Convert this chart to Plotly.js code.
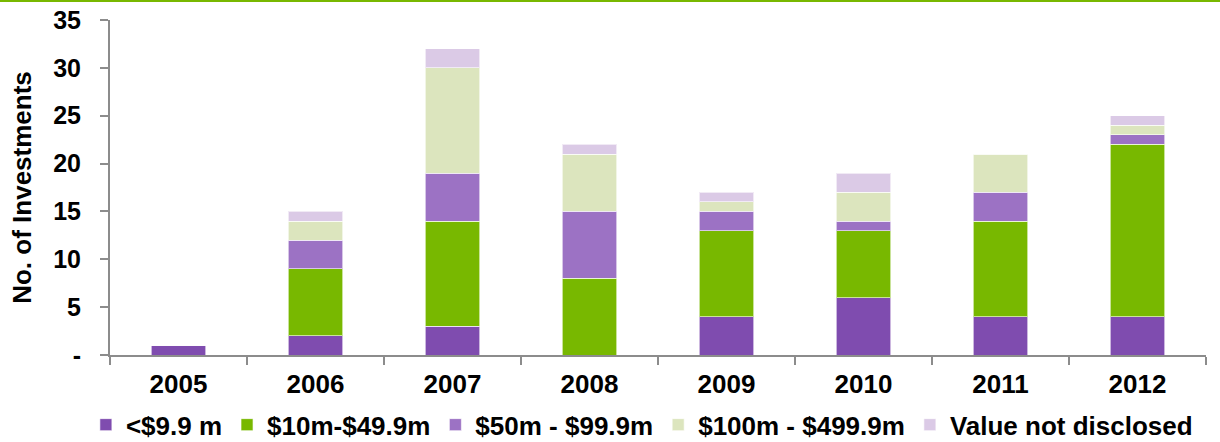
<!DOCTYPE html>
<html>
<head>
<meta charset="utf-8">
<script src="https://cdn.plot.ly/plotly-3.0.1.min.js"></script>
<style>html,body{margin:0;padding:0;background:#fff;}#chart{width:1220px;height:442px;}</style>
</head>
<body>
<div id="chart"></div>
<script>
const years = ["2005","2006","2007","2008","2009","2010","2011","2012"];
const seriesNames = ["<$9.9 m","$10m-$49.9m","$50m - $99.9m","$100m - $499.9m","Value not disclosed"];
const under10m = [1, 2, 3, 0, 4, 6, 4, 4];
const m10to50 = [0, 7, 11, 8, 9, 7, 10, 18];
const m50to100 = [0, 3, 5, 7, 2, 1, 3, 1];
const m100to500 = [0, 2, 11, 6, 1, 3, 4, 1];
const notDisclosed = [0, 1, 2, 1, 1, 2, 0, 1];
const yTickVals = [0, 5, 10, 15, 20, 25, 30, 35];
const yTickText = ["-", "5", "10", "15", "20", "25", "30", "35"];

const colors = ["#7F4CAF", "#78B800", "#9C72C4", "#DCE5BE", "#DBCAE6"];
const values = [under10m, m10to50, m50to100, m100to500, notDisclosed];
const FONT = "Liberation Sans, Arial, sans-serif";

const traces = values.map((v, i) => ({
  type: "bar",
  x: years,
  y: v,
  name: seriesNames[i],
  marker: {color: colors[i], line: {width: 1, color: "rgba(255,255,255,0.6)"}},
  hoverinfo: "x+y+name"
}));

const layout = {
  width: 1220,
  height: 442,
  barmode: "stack",
  bargap: 0.6,
  paper_bgcolor: "#fff",
  plot_bgcolor: "#fff",
  margin: {l: 110, r: 14, t: 20, b: 87, autoexpand: false},
  font: {family: FONT, size: 26, color: "#000"},
  xaxis: {
    type: "category",
    automargin: false,
    showline: true, linecolor: "#8c8c8c", linewidth: 2,
    ticks: "outside", tickson: "boundaries", ticklen: 8, tickcolor: "#8c8c8c", tickwidth: 2,
    tickfont: {size: 26, family: FONT, weight: "bold"},
    ticklabelstandoff: 5,
    showgrid: false, zeroline: false
  },
  yaxis: {
    range: [0, 35],
    automargin: false,
    tickvals: yTickVals, ticktext: yTickText,
    showline: true, linecolor: "#8c8c8c", linewidth: 2,
    ticks: "outside", ticklen: 8, tickcolor: "#8c8c8c", tickwidth: 2,
    tickfont: {size: 25, family: FONT, weight: "bold"},
    ticklabelstandoff: 14,
    showgrid: false, zeroline: false,
    title: {text: "No. of Investments", font: {size: 26, family: FONT, weight: "bold"}, standoff: 14}
  },
  legend: {
    orientation: "h", x: -0.022, xanchor: "left", y: -0.138, yanchor: "top",
    font: {size: 26, family: FONT, weight: "bold"},
    traceorder: "normal", itemwidth: 30
  },
  showlegend: true,
  shapes: [{
    type: "line", xref: "paper", yref: "paper",
    x0: -110/1096, x1: 1 + 14/1096, y0: 1 + 19/335, y1: 1 + 19/335,
    line: {color: "#78B800", width: 2}
  }]
};

Plotly.newPlot("chart", traces, layout, {displayModeBar: false, staticPlot: true});
</script>
</body>
</html>
